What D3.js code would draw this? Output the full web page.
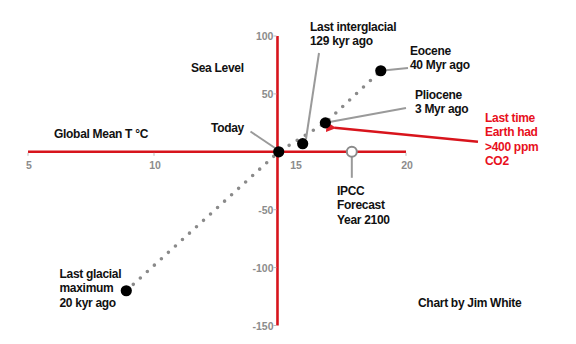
<!DOCTYPE html>
<html>
<head>
<meta charset="utf-8">
<script src="https://cdn.jsdelivr.net/npm/d3@7"></script>
<style>
  html, body { margin: 0; padding: 0; background: #fff; }
  svg { display: block; font-family: "Liberation Sans", Arial, sans-serif; }
</style>
</head>
<body>
<svg id="chart" width="576" height="344"></svg>
<script>
// data
const names = ['Last glacial maximum', 'Today', 'Last interglacial', 'Pliocene', 'Eocene', 'IPCC Forecast'];
const temps = [8.9, 14.95, 15.9, 16.8, 19.0, 17.85];   // global mean T °C
const seaLevels = [-120, 0, 7, 25, 70, 0];              // sea level, m
const hollow = [false, false, false, false, false, true];
const trendOrder = ['Last glacial maximum', 'Today', 'Pliocene', 'Eocene'];
const xTicks = [5, 10, 15, 20];
const yTicks = [100, 50, -50, -100, -150];

const points = names.map((n, i) => ({ name: n, t: temps[i], sl: seaLevels[i], hollow: hollow[i] }));

const svg = d3.select('#chart');
const x = d3.scaleLinear().domain([5, 20]).range([28, 406]);
const y = d3.scaleLinear().domain([-150, 100]).range([325.5, 36]);
const axisCross = 14.9;   // where the vertical axis crosses

const axisRed = '#d7141c';
const tickGray = '#8c8c8c';
const leaderGray = '#9a9a9a';

// horizontal axis
svg.append('line')
  .attr('x1', x(5)).attr('x2', x(20))
  .attr('y1', y(0)).attr('y2', y(0))
  .attr('stroke', axisRed).attr('stroke-width', 2.6);

svg.selectAll('.xt').data(xTicks).enter().append('line')
  .attr('x1', d => x(d)).attr('x2', d => x(d))
  .attr('y1', y(0) + 1).attr('y2', y(0) + 4)
  .attr('stroke', '#bbb').attr('stroke-width', 1);

svg.selectAll('.xl').data(xTicks).enter().append('text')
  .text(d => d)
  .attr('x', d => x(d) + (d === 15 ? 16 : 1))
  .attr('y', y(0) + 17)
  .attr('text-anchor', 'middle')
  .attr('font-size', 10.5).attr('font-weight', 'bold')
  .attr('fill', tickGray);

// vertical axis
svg.append('line')
  .attr('x1', x(axisCross)).attr('x2', x(axisCross))
  .attr('y1', y(100)).attr('y2', y(-150))
  .attr('stroke', axisRed).attr('stroke-width', 2.6);

svg.selectAll('.yt').data(yTicks).enter().append('line')
  .attr('x1', x(axisCross) - 4).attr('x2', x(axisCross) - 1)
  .attr('y1', d => y(d)).attr('y2', d => y(d))
  .attr('stroke', '#bbb').attr('stroke-width', 1);

svg.selectAll('.yl').data(yTicks).enter().append('text')
  .text(d => d)
  .attr('x', x(axisCross) - 4)
  .attr('y', d => y(d) + 4)
  .attr('text-anchor', 'end')
  .attr('font-size', 10.5).attr('font-weight', 'bold')
  .attr('fill', tickGray);

// dotted trend line
const trend = trendOrder.map(n => points.find(p => p.name === n));
svg.append('path')
  .attr('d', d3.line().x(d => x(d.t)).y(d => y(d.sl))(trend))
  .attr('fill', 'none')
  .attr('stroke', '#8a8a8a')
  .attr('stroke-width', 3.6)
  .attr('stroke-linecap', 'round')
  .attr('stroke-dasharray', '0 9.5');

// leader lines: from a point to a label position
const leaders = [
  { name: 'Today', x2: 250.5, y2: 131.5, fromX: 278, fromY: 150 },
  { name: 'Last interglacial', x2: 319, y2: 53, fromX: 306, fromY: 139 },
  { name: 'Pliocene', x2: 406, y2: 108 },
  { name: 'Eocene', x2: 408, y2: 68 }
];
leaders.forEach(l => {
  const p = points.find(d => d.name === l.name);
  svg.append('line')
    .attr('x1', l.fromX !== undefined ? l.fromX : x(p.t))
    .attr('y1', l.fromY !== undefined ? l.fromY : y(p.sl))
    .attr('x2', l.x2).attr('y2', l.y2)
    .attr('stroke', leaderGray).attr('stroke-width', 2);
});

// IPCC stem
const ipcc = points.find(d => d.name === 'IPCC Forecast');
svg.append('line')
  .attr('x1', x(ipcc.t)).attr('x2', x(ipcc.t))
  .attr('y1', y(ipcc.sl) + 5).attr('y2', y(ipcc.sl) + 26)
  .attr('stroke', leaderGray).attr('stroke-width', 2);

// red arrow to Pliocene
const plio = points.find(d => d.name === 'Pliocene');
svg.append('defs').append('marker')
  .attr('id', 'head').attr('viewBox', '0 0 10 10')
  .attr('refX', 2).attr('refY', 5)
  .attr('markerWidth', 4).attr('markerHeight', 4)
  .attr('orient', 'auto')
  .append('path').attr('d', 'M0,5 L10,0 L10,10 Z').attr('fill', '#e0202a');
svg.append('line')
  .attr('x1', 478).attr('y1', 141.7)
  .attr('x2', x(plio.t) + 9).attr('y2', y(plio.sl) + 5)
  .attr('stroke', '#d8141c').attr('stroke-width', 2.5)
  .attr('marker-end', 'url(#head)');

// points
svg.selectAll('.pt').data(points).enter().append('circle')
  .attr('cx', d => x(d.t))
  .attr('cy', d => y(d.sl))
  .attr('r', d => d.hollow ? 5 : 5.6)
  .attr('fill', d => d.hollow ? '#fff' : '#000')
  .attr('stroke', d => d.hollow ? '#8a8a8a' : 'none')
  .attr('stroke-width', 2);

// text labels
const labels = [
  { lines: ['Global Mean T °C'], x: 54, y: 138 },
  { lines: ['Sea Level'], x: 191, y: 72 },
  { lines: ['Today'], x: 211, y: 132 },
  { lines: ['Last interglacial', '129 kyr ago'], x: 310, y: 31 },
  { lines: ['Eocene', '40 Myr ago'], x: 410, y: 55 },
  { lines: ['Pliocene', '3 Myr ago'], x: 415, y: 99 },
  { lines: ['Last time', 'Earth had', '>400 ppm', 'CO2'], x: 485, y: 122, fill: '#e8101c' },
  { lines: ['IPCC', 'Forecast', 'Year 2100'], x: 337, y: 195 },
  { lines: ['Last glacial', 'maximum', '20 kyr ago'], x: 59.5, y: 278 },
  { lines: ['Chart by Jim White'], x: 418, y: 307 }
];
labels.forEach(l => {
  const t = svg.append('text')
    .attr('x', l.x).attr('y', l.y)
    .attr('font-size', 12).attr('font-weight', 'bold')
    .attr('letter-spacing', -0.3)
    .attr('fill', l.fill || '#111');
  l.lines.forEach((s, i) => {
    t.append('tspan').attr('x', l.x).attr('dy', i === 0 ? 0 : 14.4).text(s);
  });
});
</script>
</body>
</html>
